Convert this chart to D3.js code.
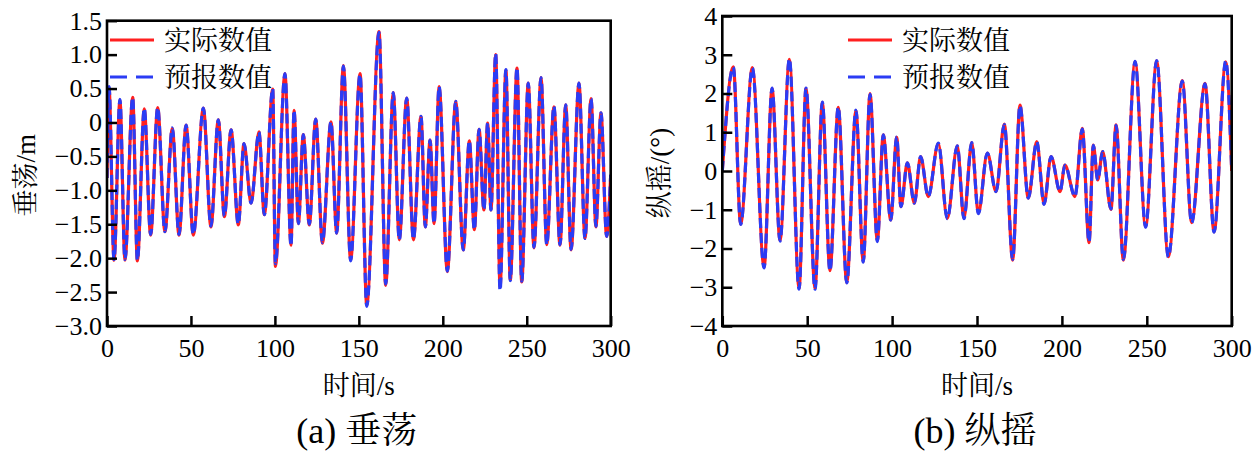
<!DOCTYPE html>
<html>
<head>
<meta charset="utf-8">
<script src="https://cdn.jsdelivr.net/npm/d3@7"></script>
<style>
  body { margin: 0; background: #fff; }
  svg { display: block; }
</style>
</head>
<body>
<script>
// series names (legend)
const seriesNames = ["实际数值", "预报数值"];
const timeTicks = [0, 50, 100, 150, 200, 250, 300];

// (a) heave: time of each turning point (s) and value (m)
const heaveTime = [0, 1.2, 4.2, 7.7, 10.7, 15.3, 18.1, 22.2, 26, 30.2, 34.5, 38.9, 42.9, 47.1, 51.4,
  57.4, 61.9, 66.3, 69.9, 73.9, 78.2, 81.6, 85.8, 90.5, 93.7, 98.7, 100.3, 106, 109.6, 111.4,
  114, 116.9, 120.5, 124.3, 128.3, 133.4, 136.8, 140.8, 145.1, 150.7, 154.7, 162, 166, 170.5,
  174.1, 178.5, 182.5, 187, 189.6, 192.4, 194.8, 197.8, 202.7, 207.7, 212.2, 215.8, 218.8,
  221.6, 224.5, 226.7, 228.7, 231.5, 234.1, 237.6, 240.2, 244.2, 247, 250.9, 254.3, 258.5,
  261.9, 266.2, 269.8, 273.2, 276.4, 281.1, 284.7, 288.3, 291.2, 294.2, 297.6, 300];
const heaveActual = [-0.82, 0.5, -2.03, 0.33, -2.03, 0.37, -2.04, 0.2, -1.66, 0.22, -1.61, -0.09, -1.66, -0.04, -1.66,
  0.21, -1.54, 0.04, -1.39, -0.11, -1.51, -0.31, -1.19, -0.14, -1.36, 0.49, -2.12, 0.72, -1.81, 0.18,
  -1.49, -0.18, -1.51, 0.05, -1.78, 0.01, -1.63, 0.84, -2.03, 0.72, -2.69, 1.34, -2.4, 0.44,
  -1.73, 0.36, -1.73, 0.09, -1.54, -0.26, -1.49, 0.53, -2.2, 0.31, -1.88, -0.27, -1.58,
  -0.1, -1.29, -0.01, -1.29, 1.0, -2.42, 0.77, -2.32, 0.8, -2.35, 0.58, -1.85, 0.66,
  -1.8, 0.23, -1.81, 0.26, -1.88, 0.58, -1.71, 0.35, -1.54, 0.14, -1.68, -0.77];
const heaveForecast = [-0.82, 0.53, -2.02, 0.34, -2.02, 0.37, -2.03, 0.21, -1.65, 0.22, -1.61, -0.08, -1.65, -0.04, -1.65,
  0.21, -1.53, 0.04, -1.38, -0.11, -1.5, -0.31, -1.19, -0.14, -1.36, 0.5, -2.08, 0.72, -1.82, 0.18,
  -1.49, -0.18, -1.5, 0.05, -1.77, 0.01, -1.63, 0.83, -2.04, 0.71, -2.71, 1.33, -2.38, 0.44,
  -1.73, 0.36, -1.72, 0.09, -1.54, -0.26, -1.49, 0.53, -2.19, 0.31, -1.88, -0.27, -1.58,
  -0.1, -1.29, -0.01, -1.29, 1.02, -2.48, 0.78, -2.33, 0.81, -2.34, 0.58, -1.84, 0.66,
  -1.8, 0.24, -1.8, 0.26, -1.87, 0.58, -1.71, 0.35, -1.53, 0.14, -1.68, -0.77];
const heaveTicks = [-3, -2.5, -2, -1.5, -1, -0.5, 0, 0.5, 1, 1.5];

// (b) pitch: time of each turning point (s) and value (deg)
const pitchTime = [0, 6.5, 10.8, 17.7, 24.6, 29.3, 34, 39.5, 45.2, 49.3, 54.6, 58.9, 63.4, 68.3,
  73.3, 78.7, 83, 87, 91.3, 94.8, 99.2, 102.7, 105.2, 109, 113.1, 116.8, 121.3, 127.2,
  132.5, 138.4, 142.3, 146.9, 150.8, 156.1, 161.2, 166.1, 171, 175.3, 180.2, 185.2, 189.5,
  193.6, 198.9, 201.8, 207.7, 212, 216, 218.5, 221.1, 224, 228.9, 231.9, 236.2, 243.1,
  249.3, 255.8, 262.7, 270.9, 276.4, 284.3, 289.6, 296.5, 300];
const pitchActual = [0, 2.69, -1.37, 2.67, -2.49, 2.13, -1.8, 2.88, -3.03, 2.13, -3.03, 1.77, -2.57, 1.64,
  -2.88, 1.56, -2.34, 2.0, -1.8, 0.93, -1.26, 0.87, -0.92, 0.21, -0.83, 0.37, -0.66, 0.71,
  -1.22, 0.65, -1.22, 0.73, -1.09, 0.46, -0.53, 1.21, -2.3, 1.7, -0.7, 0.76, -0.85,
  0.37, -0.53, 0.15, -0.66, 1.1, -1.85, 0.67, -0.23, 0.5, -0.99, 1.19, -2.3, 2.82,
  -1.44, 2.84, -2.21, 2.33, -1.33, 2.26, -1.57, 2.82, 0];
const pitchForecast = [0, 2.68, -1.38, 2.66, -2.5, 2.14, -1.81, 2.9, -3.05, 2.14, -3.05, 1.78, -2.58, 1.65,
  -2.89, 1.57, -2.35, 1.98, -1.82, 0.93, -1.27, 0.88, -0.92, 0.21, -0.83, 0.37, -0.66, 0.72,
  -1.23, 0.65, -1.23, 0.73, -1.1, 0.46, -0.53, 1.2, -2.28, 1.69, -0.7, 0.76, -0.86,
  0.37, -0.53, 0.15, -0.66, 1.08, -1.83, 0.66, -0.23, 0.5, -0.98, 1.18, -2.28, 2.83,
  -1.45, 2.85, -2.22, 2.32, -1.34, 2.25, -1.58, 2.84, 0.02];
const pitchTicks = [-4, -3, -2, -1, 0, 1, 2, 3, 4];

const RED = "#ff1f1f", BLUE = "#2b3cf4";
const LATIN = "Liberation Serif", CJK = "Noto Serif CJK SC";

const svg = d3.select("body").append("svg")
    .attr("width", 1260)
    .attr("height", 455)
    .attr("viewBox", "0 0 1260 455");

function minusFmt(dec) {
  return function (d) { return d === 0 ? "0" : d3.format(dec)(d); };
}

// split mixed text into runs so each run gets one font
function richText(sel, str) {
  str.match(/[\u4e00-\u9fff]+|[^\u4e00-\u9fff]+/g).forEach(function (p) {
    sel.append("tspan")
      .attr("font-family", /[\u4e00-\u9fff]/.test(p) ? CJK : LATIN)
      .text(p);
  });
  return sel;
}

function panel(opt) {
  const g = svg.append("g");
  const x = d3.scaleLinear().domain([0, 300]).range([opt.left, opt.right]);
  const y = d3.scaleLinear().domain(opt.yDomain).range([opt.bottom, opt.top]);

  const clipId = "clip-" + opt.id;
  g.append("clipPath").attr("id", clipId)
    .append("rect")
    .attr("x", opt.left).attr("y", opt.top)
    .attr("width", opt.right - opt.left).attr("height", opt.bottom - opt.top);

  const line = d3.line()
    .x(function (d) { return x(d[0]); })
    .y(function (d) { return y(d[1]); })
    .curve(d3.curveMonotoneX);

  const actual = d3.zip(opt.time, opt.actual);
  const forecast = d3.zip(opt.time, opt.forecast);

  const plot = g.append("g").attr("clip-path", "url(#" + clipId + ")");
  plot.append("path").datum(actual)
    .attr("d", line).attr("fill", "none")
    .attr("stroke", RED).attr("stroke-width", 3.2);
  plot.append("path").datum(forecast)
    .attr("d", line).attr("fill", "none")
    .attr("stroke", BLUE).attr("stroke-width", 3.2)
    .attr("stroke-dasharray", "10,5");

  // axes, ticks inward
  const xAxis = d3.axisBottom(x).tickValues(timeTicks)
    .tickSizeInner(-10).tickSizeOuter(0).tickPadding(13);
  const yAxis = d3.axisLeft(y).tickValues(opt.yTicks)
    .tickSizeInner(-10).tickSizeOuter(0).tickPadding(5)
    .tickFormat(opt.fmt);

  const gx = g.append("g").attr("transform", "translate(0," + opt.bottom + ")").call(xAxis);
  const gy = g.append("g").attr("transform", "translate(" + opt.left + ",0)").call(yAxis);
  [gx, gy].forEach(function (a) {
    a.attr("font-family", LATIN).attr("font-size", 26);
    a.select(".domain").remove();
    a.selectAll(".tick line").attr("stroke", "#000").attr("stroke-width", 2.5);
    a.selectAll(".tick text").attr("fill", "#000").attr("font-family", LATIN);
  });

  // frame
  g.append("rect")
    .attr("x", opt.left).attr("y", opt.top)
    .attr("width", opt.right - opt.left).attr("height", opt.bottom - opt.top)
    .attr("fill", "none").attr("stroke", "#000").attr("stroke-width", 2.6);

  // legend
  const lg = g.append("g");
  seriesNames.forEach(function (name, i) {
    const ly = opt.legendY + i * 37;
    lg.append("line")
      .attr("x1", opt.legendX).attr("x2", opt.legendX + 44)
      .attr("y1", ly).attr("y2", ly)
      .attr("stroke", i === 0 ? RED : BLUE).attr("stroke-width", 3.2)
      .attr("stroke-dasharray", i === 0 ? null : "17,9");
    lg.append("text")
      .attr("x", opt.legendX + 54).attr("y", ly + 10)
      .attr("font-family", CJK)
      .attr("font-size", 27)
      .text(name);
  });

  const cx = (opt.left + opt.right) / 2;
  // axis titles
  richText(g.append("text")
    .attr("x", cx).attr("y", 395)
    .attr("text-anchor", "middle")
    .attr("font-size", 27), "时间/s");
  richText(g.append("text")
    .attr("transform", "translate(" + opt.yLabelX + "," + ((opt.top + opt.bottom) / 2 + 2) + ") rotate(-90)")
    .attr("text-anchor", "middle")
    .attr("dy", "0.35em")
    .attr("font-size", 27), opt.yLabel);
  // caption
  richText(g.append("text")
    .attr("x", cx - 2).attr("y", 443)
    .attr("text-anchor", "middle")
    .attr("font-size", 36), opt.caption);
}

panel({
  id: "a", left: 107, right: 610.7, top: 20.7, bottom: 326,
  yDomain: [-3, 1.5], yTicks: heaveTicks, fmt: minusFmt(".1f"),
  time: heaveTime, actual: heaveActual, forecast: heaveForecast,
  legendX: 110, legendY: 40, yLabelX: 26, yLabel: "垂荡/m", caption: "(a) 垂荡"
});

panel({
  id: "b", left: 722.3, right: 1231.7, top: 16, bottom: 326,
  yDomain: [-4, 4], yTicks: pitchTicks, fmt: minusFmt("d"),
  time: pitchTime, actual: pitchActual, forecast: pitchForecast,
  legendX: 848, legendY: 40, yLabelX: 660, yLabel: "纵摇/(°)", caption: "(b) 纵摇"
});
</script>
</body>
</html>
